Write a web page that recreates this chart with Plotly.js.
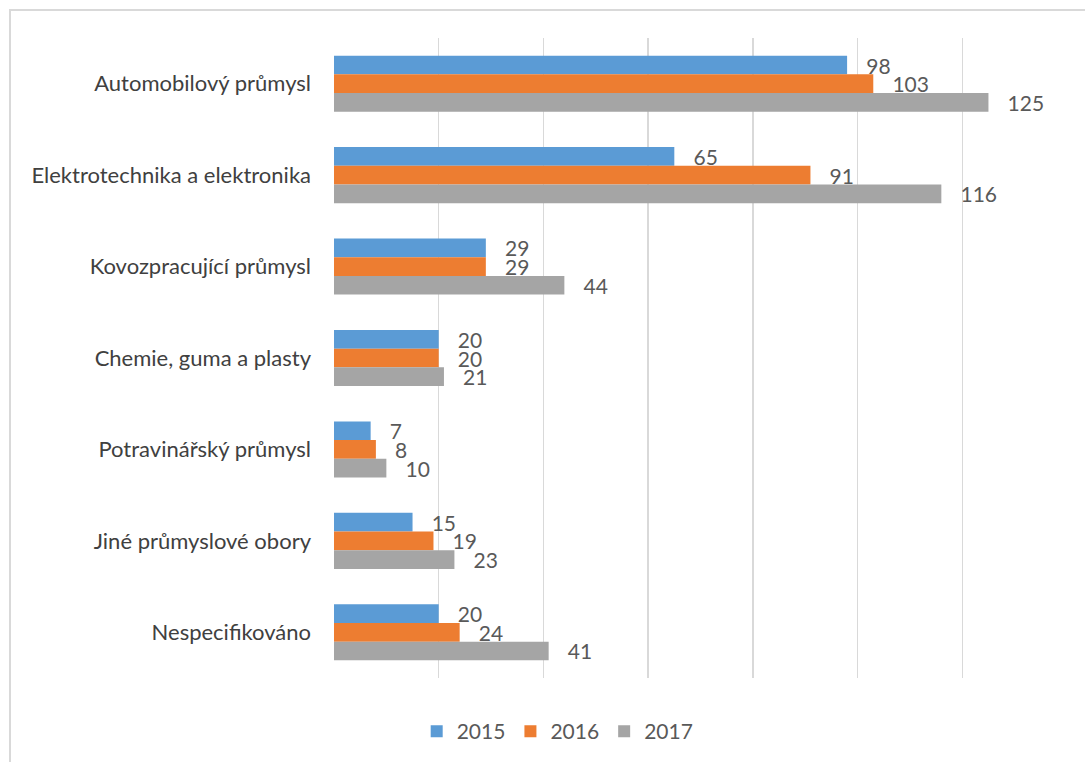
<!DOCTYPE html>
<html>
<head>
<meta charset="utf-8">
<script src="https://cdn.plot.ly/plotly-3.0.1.min.js"></script>
<style>
  html, body { margin: 0; padding: 0; background: #fff; }
  #wrap { position: relative; width: 1085px; height: 762px; }
  #chart { width: 1085px; height: 762px; }
  #frame { position: absolute; left: 9px; top: 9px; right: -5px; bottom: -5px;
           border-top: 2px solid #d9d9d9; border-left: 2px solid #d9d9d9; pointer-events: none; }
</style>
</head>
<body>
<div id="wrap">
  <div id="chart"></div>
  <div id="frame"></div>
</div>
<script>
const categories = [
  "Automobilový průmysl",
  "Elektrotechnika a elektronika",
  "Kovozpracující průmysl",
  "Chemie, guma a plasty",
  "Potravinářský průmysl",
  "Jiné průmyslové obory",
  "Nespecifikováno"
];
const years = ["2015", "2016", "2017"];
const values2015 = [98, 65, 29, 20, 7, 15, 20];
const values2016 = [103, 91, 29, 20, 8, 19, 24];
const values2017 = [125, 116, 44, 21, 10, 23, 41];
const colors = ["#5B9BD5", "#ED7D31", "#A5A5A5"];
const seriesValues = [values2015, values2016, values2017];

const FONT = "Lato, 'Open Sans', sans-serif";

const traces = seriesValues.map((vals, i) => ({
  type: "bar",
  orientation: "h",
  name: years[i],
  y: categories,
  x: vals,
  marker: { color: colors[i] },
  text: vals.map(String),
  texttemplate: "&nbsp;&nbsp;&nbsp;%{x}",
  textposition: "outside",
  constraintext: "none",
  cliponaxis: false,
  textfont: { family: FONT, size: 21, color: "#595959" },
  hoverinfo: "x+name"
}));

const layout = {
  width: 1085,
  height: 762,
  margin: { l: 334, r: 18, t: 38, b: 84 },
  paper_bgcolor: "#ffffff",
  plot_bgcolor: "#ffffff",
  barmode: "group",
  bargap: 0.387,
  bargroupgap: 0,
  font: { family: FONT, color: "#404040" },
  xaxis: {
    range: [0, 140],
    dtick: 20,
    showticklabels: false,
    showgrid: true,
    gridcolor: "#d9d9d9",
    gridwidth: 1.5,
    zeroline: false,
    showline: false,
    ticks: ""
  },
  yaxis: {
    type: "category",
    autorange: "reversed",
    showgrid: false,
    zeroline: false,
    showline: false,
    ticks: "",
    ticklabelstandoff: 22,
    tickfont: { family: FONT, size: 22, color: "#404040" }
  },
  showlegend: true,
  legend: {
    orientation: "h",
    xref: "container",
    yref: "container",
    x: 0.514,
    xanchor: "center",
    y: 0.04,
    yanchor: "middle",
    font: { family: FONT, size: 21, color: "#595959" },
    itemwidth: 30,
    traceorder: "normal"
  }
};

Plotly.newPlot("chart", traces, layout, { displayModeBar: false, staticPlot: true });
</script>
</body>
</html>
